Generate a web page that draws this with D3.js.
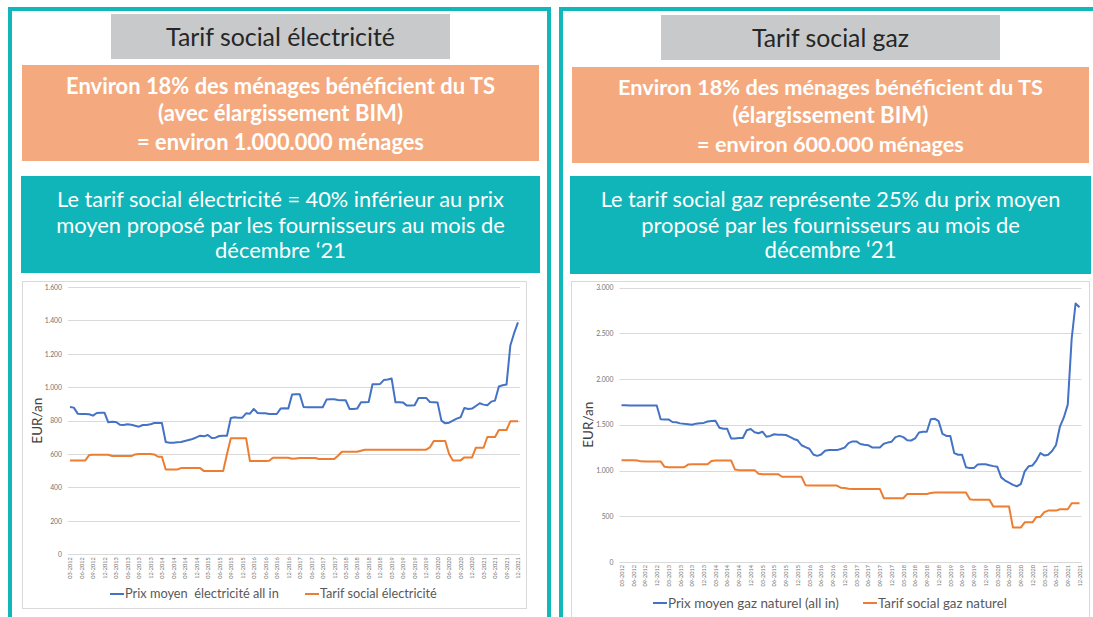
<!DOCTYPE html>
<html>
<head>
<meta charset="utf-8">
<script src="https://cdn.jsdelivr.net/npm/d3@7"></script>
<style>
  body { margin: 0; background: #fff; }
  svg { display: block; }
</style>
</head>
<body>
<script>
const width = 1093;
const height = 617;

// monthly values, 03-2012 .. 12-2021 (118 months)
const elecPrice = [
  882, 878, 842, 840, 840, 838, 830, 846, 848, 848,
  790, 794, 792, 776, 774, 778, 776, 770, 764, 774,
  774, 778, 786, 786, 786, 672, 668, 668, 670, 672,
  678, 684, 690, 700, 710, 706, 714, 696, 698, 708,
  710, 710, 816, 820, 818, 818, 844, 842, 870, 846,
  844, 844, 840, 840, 840, 872, 874, 872, 956, 958,
  958, 882, 880, 880, 880, 880, 880, 926, 928, 928,
  924, 922, 922, 870, 870, 872, 910, 910, 912, 1018,
  1018, 1020, 1044, 1046, 1052, 910, 910, 908, 890, 890,
  892, 936, 936, 936, 912, 910, 908, 800, 784, 788,
  800, 812, 820, 876, 870, 872, 888, 904, 896, 892,
  914, 920, 1004, 1012, 1016, 1250, 1325, 1388
];
const elecSocial = [
  562, 562, 562, 562, 562, 594, 596, 596, 596, 596,
  596, 588, 588, 588, 588, 588, 588, 598, 600, 600,
  600, 600, 598, 584, 584, 508, 508, 508, 508, 516,
  516, 516, 516, 516, 516, 498, 498, 498, 498, 498,
  498, 600, 694, 694, 694, 694, 694, 558, 558, 558,
  558, 558, 560, 578, 578, 578, 578, 578, 572, 574,
  576, 576, 576, 576, 576, 570, 570, 570, 570, 570,
  590, 614, 614, 614, 614, 614, 620, 626, 626, 626,
  626, 626, 626, 626, 626, 626, 626, 626, 626, 626,
  626, 626, 626, 626, 640, 678, 678, 678, 678, 600,
  562, 562, 562, 580, 580, 580, 638, 638, 638, 702,
  702, 702, 744, 744, 744, 796, 796, 796
];
const gasPrice = [
  1712, 1712, 1710, 1710, 1710, 1710, 1710, 1710, 1710, 1710,
  1560, 1558, 1558, 1530, 1527, 1515, 1510, 1506, 1500, 1512,
  1516, 1520, 1535, 1540, 1544, 1467, 1456, 1456, 1350, 1350,
  1354, 1356, 1440, 1453, 1418, 1407, 1424, 1370, 1378, 1396,
  1392, 1390, 1388, 1368, 1345, 1330, 1276, 1255, 1238, 1175,
  1160, 1175, 1215, 1223, 1223, 1223, 1235, 1250, 1300, 1318,
  1318, 1290, 1282, 1277, 1252, 1252, 1252, 1293, 1305, 1315,
  1365, 1378, 1365, 1330, 1328, 1350, 1415, 1423, 1423, 1560,
  1566, 1540, 1400, 1378, 1376, 1190, 1172, 1172, 1035, 1026,
  1026, 1065, 1069, 1068, 1057, 1048, 1040, 925, 890, 868,
  843, 828, 850, 990, 1046, 1055, 1111, 1190, 1165, 1172,
  1213, 1278, 1480, 1580, 1720, 2440, 2825, 2785
];
const gasSocial = [
  1113, 1113, 1113, 1113, 1110, 1100, 1099, 1099, 1099, 1099,
  1099, 1040, 1036, 1036, 1036, 1036, 1036, 1065, 1069, 1069,
  1069, 1069, 1069, 1105, 1110, 1110, 1110, 1110, 1110, 1010,
  1004, 1004, 1004, 1004, 1004, 965, 960, 960, 960, 960,
  960, 932, 931, 931, 931, 931, 931, 840, 836, 836,
  836, 836, 836, 836, 836, 836, 812, 808, 800, 798,
  798, 798, 798, 798, 798, 798, 798, 697, 697, 697,
  697, 697, 697, 744, 744, 744, 744, 744, 744, 755,
  759, 759, 759, 759, 759, 759, 759, 759, 759, 685,
  679, 679, 679, 679, 679, 606, 606, 606, 606, 606,
  376, 376, 376, 434, 434, 434, 493, 493, 545, 562,
  562, 562, 577, 577, 577, 642, 642, 642
];

// one label every 3 months
const xTickLabels = [
  "03-2012", "06-2012", "09-2012", "12-2012", "03-2013", "06-2013", "09-2013", "12-2013",
  "03-2014", "06-2014", "09-2014", "12-2014", "03-2015", "06-2015", "09-2015", "12-2015",
  "03-2016", "06-2016", "09-2016", "12-2016", "03-2017", "06-2017", "09-2017", "12-2017",
  "03-2018", "06-2018", "09-2018", "12-2018", "03-2019", "06-2019", "09-2019", "12-2019",
  "03-2020", "06-2020", "09-2020", "12-2020", "03-2021", "06-2021", "09-2021", "12-2021"
];
const elecYTicks = [0, 200, 400, 600, 800, 1000, 1200, 1400, 1600];
const gasYTicks = [0, 500, 1000, 1500, 2000, 2500, 3000];

const elecLegend = ["Prix moyen  électricité all in", "Tarif social électricité"];
const gasLegend = ["Prix moyen gaz naturel (all in)", "Tarif social gaz naturel"];

const teal = "#12b7ba";
const blue = "#4472c4";
const orange = "#ed7d31";
const font = "Lato, 'Open Sans', sans-serif";

const locale = d3.formatLocale({ decimal: ",", thousands: ".", grouping: [3], currency: ["", " €"] });
const fmt = locale.format(",d");

const svg = d3.select("body").append("svg")
  .attr("width", width)
  .attr("height", height);

// shrink / grow a text so that it takes the given width
function fit(t, w) {
  const fs = parseFloat(t.attr("font-size"));
  const cur = t.node().getComputedTextLength();
  t.attr("font-size", fs * w / cur);
  return t;
}

function centered(g, txt, cx, cy, w, size, opts) {
  const t = g.append("text")
    .attr("x", cx)
    .attr("y", cy)
    .attr("dy", "0.35em")
    .attr("text-anchor", "middle")
    .attr("font-family", font)
    .attr("font-size", size)
    .attr("font-weight", opts.bold ? 700 : 400)
    .attr("fill", opts.fill)
    .text(txt);
  fit(t, w);
}

const panels = [
  {
    x0: 10, title: "Tarif social électricité", titleW: 229,
    gray: [111, 14, 339, 45], orangeBox: [22, 65, 517, 96], tealBox: [21, 176, 519, 97],
    orangeLines: [
      ["Environ 18% des ménages bénéficient du TS", 429, 86],
      ["(avec élargissement BIM)", 245, 113],
      ["= environ 1.000.000 ménages", 287, 142]
    ],
    tealLines: [
      ["Le tarif social électricité = 40% inférieur au prix", 447, 199],
      ["moyen proposé par les fournisseurs au mois de", 449, 225],
      ["décembre ‘21", 131, 250]
    ],
    frame: [22, 281, 504, 327],
    plot: { x0: 70, x1: 518, y0: 554.3, y1: 287 },
    yMax: 1600, yTicks: elecYTicks,
    price: elecPrice, social: elecSocial,
    legend: elecLegend,
    legendPos: [[110, 154], [305, 117]], legendY: 594,
    yTitleX: 37
  },
  {
    x0: 561, title: "Tarif social gaz", titleW: 157,
    gray: [661, 15, 339, 45], orangeBox: [572, 67, 517, 96], tealBox: [570, 176, 521, 98],
    orangeLines: [
      ["Environ 18% des ménages bénéficient du TS", 425, 87],
      ["(élargissement BIM)", 196, 115],
      ["= environ 600.000 ménages", 267, 144]
    ],
    tealLines: [
      ["Le tarif social gaz représente 25% du prix moyen", 460, 199],
      ["proposé par les fournisseurs au mois de", 379, 225],
      ["décembre ‘21", 132, 250]
    ],
    frame: [571, 281, 518, 336],
    plot: { x0: 621.5, x1: 1079.5, y0: 562, y1: 287.5 },
    yMax: 3000, yTicks: gasYTicks,
    price: gasPrice, social: gasSocial,
    legend: gasLegend,
    legendPos: [[653, 171], [863, 129]], legendY: 603,
    yTitleX: 588
  }
];

panels.forEach(p => {
  const g = svg.append("g");

  // teal outline of the panel
  g.append("rect")
    .attr("x", p.x0).attr("y", 9)
    .attr("width", 539).attr("height", 700)
    .attr("fill", "none")
    .attr("stroke", teal)
    .attr("stroke-width", 4);

  // title box
  g.append("rect")
    .attr("x", p.gray[0]).attr("y", p.gray[1])
    .attr("width", p.gray[2]).attr("height", p.gray[3])
    .attr("fill", "#c8c9ca");
  centered(g, p.title, p.gray[0] + p.gray[2] / 2, p.gray[1] + p.gray[3] / 2 + 1, p.titleW, 22, { fill: "#262626" });

  // orange box
  g.append("rect")
    .attr("x", p.orangeBox[0]).attr("y", p.orangeBox[1])
    .attr("width", p.orangeBox[2]).attr("height", p.orangeBox[3])
    .attr("fill", "#f4aa7e");
  const ocx = p.orangeBox[0] + p.orangeBox[2] / 2;
  p.orangeLines.forEach(l => centered(g, l[0], ocx, l[2], l[1], 20, { bold: true, fill: "#fff" }));

  // teal box
  g.append("rect")
    .attr("x", p.tealBox[0]).attr("y", p.tealBox[1])
    .attr("width", p.tealBox[2]).attr("height", p.tealBox[3])
    .attr("fill", "#0fb5b8");
  const tcx = p.tealBox[0] + p.tealBox[2] / 2;
  p.tealLines.forEach(l => centered(g, l[0], tcx, l[2], l[1], 20, { fill: "#fff" }));

  // chart frame
  g.append("rect")
    .attr("x", p.frame[0] + 0.5).attr("y", p.frame[1] + 0.5)
    .attr("width", p.frame[2]).attr("height", p.frame[3])
    .attr("fill", "#fff")
    .attr("stroke", "#d9d9d9");

  const x = d3.scaleLinear().domain([0, p.price.length - 1]).range([p.plot.x0, p.plot.x1]);
  const y = d3.scaleLinear().domain([0, p.yMax]).range([p.plot.y0, p.plot.y1]);

  // gridlines
  g.append("g")
    .selectAll("line")
    .data(p.yTicks)
    .join("line")
    .attr("x1", p.plot.x0 - 2)
    .attr("x2", p.plot.x1 + 2)
    .attr("y1", d => Math.round(y(d)) + 0.5)
    .attr("y2", d => Math.round(y(d)) + 0.5)
    .attr("stroke", "#d9d9d9")
    .attr("stroke-width", 1);

  // y axis labels
  const yAxis = g.append("g")
    .attr("transform", `translate(${p.plot.x0 - 8},0)`)
    .call(d3.axisLeft(y).tickValues(p.yTicks).tickSize(0).tickPadding(0).tickFormat(fmt));
  yAxis.select(".domain").remove();
  yAxis.selectAll("text")
    .attr("font-family", font)
    .attr("font-size", 6.8)
    .attr("fill", "#737373");

  // x axis labels, rotated
  const xAxis = g.append("g")
    .attr("transform", `translate(0,${p.plot.y0})`)
    .call(d3.axisBottom(x)
      .tickValues(d3.range(0, p.price.length, 3))
      .tickSize(0)
      .tickFormat((d, i) => xTickLabels[i]));
  xAxis.select(".domain").remove();
  xAxis.selectAll("text")
    .attr("transform", "rotate(-90)")
    .attr("x", -3)
    .attr("y", 0)
    .attr("dy", "0.32em")
    .attr("text-anchor", "end")
    .attr("font-family", font)
    .attr("font-size", 5.6)
    .attr("fill", "#737373");

  // y title
  g.append("text")
    .attr("transform", `translate(${p.yTitleX},${(p.plot.y0 + p.plot.y1) / 2}) rotate(-90)`)
    .attr("dy", "0.35em")
    .attr("text-anchor", "middle")
    .attr("font-family", font)
    .attr("font-size", 13.5)
    .attr("fill", "#404040")
    .text("EUR/an");

  // lines
  const line = d3.line().x((d, i) => x(i)).y(d => y(d));
  [[p.price, blue], [p.social, orange]].forEach(([vals, col]) => {
    g.append("path")
      .datum(vals)
      .attr("d", line)
      .attr("fill", "none")
      .attr("stroke", col)
      .attr("stroke-width", 2)
      .attr("stroke-linejoin", "round");
  });

  // legend
  [blue, orange].forEach((col, k) => {
    const lx = p.legendPos[k][0];
    g.append("line")
      .attr("x1", lx).attr("x2", lx + 14)
      .attr("y1", p.legendY).attr("y2", p.legendY)
      .attr("stroke", col)
      .attr("stroke-width", 2);
    const t = g.append("text")
      .attr("x", lx + 15)
      .attr("y", p.legendY)
      .attr("dy", "0.35em")
      .attr("font-family", font)
      .attr("font-size", 12)
      .attr("fill", "#595959")
      .style("white-space", "pre")
      .text(p.legend[k]);
    fit(t, p.legendPos[k][1]);
  });
});
</script>
</body>
</html>
